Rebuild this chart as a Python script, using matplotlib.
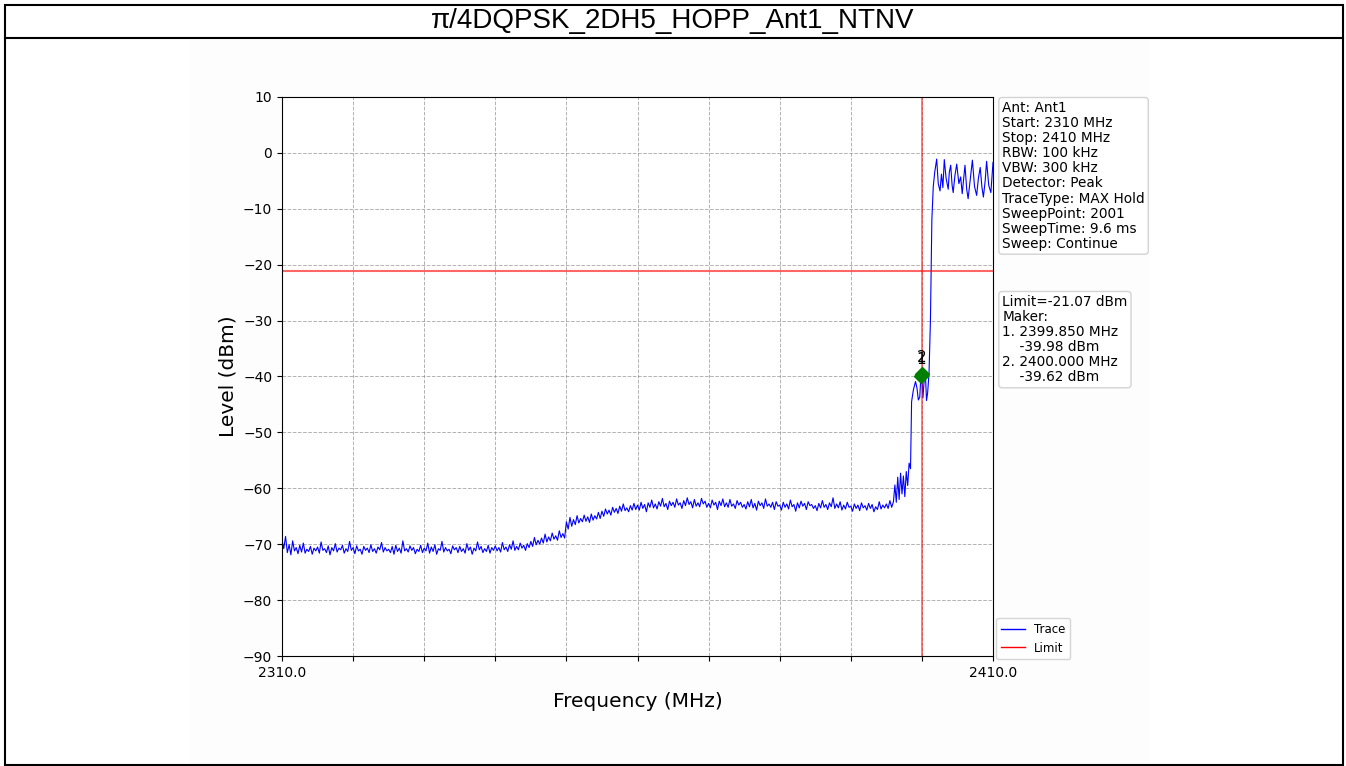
import numpy as np
import matplotlib
matplotlib.use('Agg')
import matplotlib.pyplot as plt
from matplotlib.patches import Rectangle
from matplotlib.lines import Line2D

title = 'π/4DQPSK_2DH5_HOPP_Ant1_NTNV'
start_mhz, stop_mhz = 2310, 2410
limit_dbm = -21.07
marker_freq = [2399.850, 2400.000]
marker_level = [-39.98, -39.62]

# noise floor, 0.25 MHz steps from 2310.0 to 2396.0 (one row = 5 MHz)
floor_level = [
    -69.2, -70.8, -68.6, -71.5, -70.1, -71.9, -69.4, -71.2, -70.6, -71.7, -70.2, -71.4, -69.8, -71.6, -70.9, -71.3, -70.4, -71.8, -70.7, -71.2,
    -70.5, -71.6, -69.6, -71.1, -70.8, -71.5, -70.3, -71.9, -70.6, -71.2, -69.9, -71.4, -70.7, -71.0, -70.2, -71.6, -70.8, -71.3, -69.5, -71.1,
    -70.6, -71.7, -70.3, -71.2, -70.9, -71.8, -70.4, -71.1, -70.7, -71.5, -70.1, -71.3, -70.8, -71.6, -70.5, -71.0, -69.7, -71.4, -70.6, -71.2,
    -70.9, -71.5, -70.4, -71.8, -70.2, -71.3, -70.7, -71.6, -69.4, -71.2, -70.8, -71.4, -70.3, -71.1, -70.6, -71.7, -70.9, -71.3, -70.2, -71.5,
    -70.7, -71.2, -69.8, -71.6, -70.5, -71.3, -70.1, -71.8, -70.8, -71.1, -69.5, -71.4, -70.6, -71.2, -70.9, -71.7, -70.3, -71.0, -70.6, -71.5,
    -70.4, -71.3, -70.8, -71.6, -69.9, -71.1, -70.5, -71.8, -70.7, -71.2, -69.6, -71.0, -70.4, -71.5, -70.8, -71.3, -70.2, -71.6, -70.6, -71.1,
    -70.3, -71.2, -70.6, -71.4, -69.7, -71.0, -70.5, -71.3, -70.1, -70.9, -69.4, -71.1, -70.4, -71.0, -69.8, -70.7, -70.2, -71.1, -69.9, -70.6,
    -69.5, -70.4, -68.8, -70.1, -69.3, -70.0, -68.9, -69.8, -68.2, -69.6, -68.7, -69.4, -68.0, -69.1, -68.5, -69.3, -67.6, -68.8, -68.1, -68.9,
    -66.0, -67.3, -65.2, -66.8, -65.6, -66.5, -64.9, -66.2, -65.4, -66.0, -64.8, -65.9, -65.1, -66.1, -64.6, -65.7, -64.9, -65.5, -64.3, -65.4,
    -64.1, -65.0, -63.7, -64.6, -63.9, -64.8, -63.4, -64.3, -63.6, -64.5, -63.2, -64.1, -62.8, -64.0, -63.5, -64.2, -63.1, -63.9, -62.7, -63.8,
    -63.0, -63.9, -62.5, -63.6, -62.9, -64.2, -62.6, -63.4, -62.1, -63.5, -62.8, -63.7, -62.4, -63.2, -61.8, -63.3, -62.7, -63.8, -62.3, -63.1,
    -62.5, -63.4, -61.9, -63.0, -62.6, -63.6, -62.2, -63.1, -61.7, -62.9, -62.4, -63.5, -62.0, -63.2, -62.6, -63.3, -61.8, -62.8, -62.3, -63.4,
    -62.7, -63.5, -62.1, -63.0, -62.5, -63.8, -62.3, -63.1, -61.9, -63.3, -62.6, -63.4, -62.0, -63.2, -62.8, -63.6, -62.2, -63.0, -62.5, -63.4,
    -62.9, -63.7, -62.4, -63.3, -62.0, -63.5, -62.7, -63.9, -62.3, -63.1, -62.6, -63.6, -61.9, -63.2, -62.8, -63.4, -62.5, -63.8, -62.4, -63.2,
    -63.0, -63.9, -62.5, -63.4, -62.8, -63.7, -62.1, -63.3, -62.9, -64.1, -62.6, -63.5, -62.3, -63.2, -62.7, -63.8, -62.4, -63.1, -62.9, -63.6,
    -63.1, -64.0, -62.7, -63.5, -62.2, -63.4, -62.9, -63.8, -62.6, -63.3, -61.7, -63.6, -62.8, -63.5, -62.4, -63.9, -63.0, -63.7, -62.5, -63.4,
    -63.2, -64.1, -62.8, -63.6, -63.0, -64.0, -62.6, -63.5, -63.1, -63.9, -62.7, -63.6, -62.9, -64.2, -63.3, -63.8, -62.4, -63.7, -63.0, -63.5,
    -62.8, -63.6, -62.2, -63.4, -62.4,
]
floor_freq = np.arange(len(floor_level)) * 0.25 + start_mhz

# band edge and in-band part
edge_freq = [
    2396.2, 2396.4, 2396.6, 2396.8, 2397.0, 2397.2, 2397.4, 2397.6, 2397.8, 2398.0,
    2398.2, 2398.4, 2398.55, 2398.8, 2399.1, 2399.3, 2399.5, 2399.7, 2399.85, 2400.0,
    2400.15, 2400.3, 2400.5, 2400.65, 2400.8, 2401.0, 2401.2, 2401.4, 2401.6, 2401.8,
    2402.08, 2402.3, 2402.55, 2402.75, 2402.95, 2403.15, 2403.4, 2403.7, 2403.85, 2404.05,
    2404.25, 2404.4, 2404.65, 2404.9, 2405.2, 2405.45, 2405.67, 2405.85, 2406.06, 2406.3,
    2406.5, 2406.8, 2407.1, 2407.4, 2407.7, 2407.95, 2408.2, 2408.45, 2408.65, 2408.9,
    2409.1, 2409.4, 2409.7, 2409.85, 2410.0,
]
edge_level = [
    -59.4, -62.5, -58.0, -62.0, -57.3, -61.0, -57.8, -61.5, -57.0, -59.5,
    -55.5, -56.5, -44.5, -42.4, -40.9, -42.0, -44.2, -43.7, -39.98, -39.62,
    -43.8, -41.0, -39.8, -44.3, -43.0, -39.5, -30.0, -12.0, -6.0, -3.5,
    -1.1, -5.5, -6.8, -3.8, -6.2, -1.2, -4.5, -6.5, -3.5, -2.2,
    -5.8, -7.1, -4.0, -2.0, -5.5, -4.3, -7.3, -5.0, -2.2, -6.5,
    -8.2, -4.8, -1.3, -6.0, -7.6, -4.5, -2.6, -6.2, -7.9, -5.0,
    -1.5, -5.8, -7.1, -4.5, -1.7,
]

freq = np.concatenate([floor_freq, edge_freq])
level = np.concatenate([floor_level, edge_level])

info_lines = ['Ant: Ant1', 'Start: 2310 MHz', 'Stop: 2410 MHz', 'RBW: 100 kHz',
              'VBW: 300 kHz', 'Detector: Peak', 'TraceType: MAX Hold',
              'SweepPoint: 2001', 'SweepTime: 9.6 ms', 'Sweep: Continue']

W, H = 1346, 766
fig = plt.figure(figsize=(W / 100, H / 100), dpi=100)

# frame, title row and plot panel
fig.add_artist(Rectangle((190 / W, 1 / H), 960 / W, 725 / H, transform=fig.transFigure,
                         facecolor='#fdfdfd', edgecolor='none', zorder=0))
fig.add_artist(Rectangle((5 / W, 1 / H), 1338 / W, 760 / H, transform=fig.transFigure,
                         facecolor='none', edgecolor='black', lw=1.5))
fig.add_artist(Line2D([5 / W, 1343 / W], [1 - 38 / H, 1 - 38 / H], transform=fig.transFigure,
                      color='black', lw=1.5))
fig.text(0.5, 1 - 21 / H, title, ha='center', va='center', fontsize=20,
         family=['Liberation Sans', 'DejaVu Sans'])

ax = fig.add_axes([282 / W, 1 - 656 / H, 711 / W, 559 / H])
ax.set_facecolor('white')

ax.plot(freq, level, color='blue', lw=0.8, label='Trace')
ax.axhline(limit_dbm, color='red', alpha=0.6, lw=1.5)
ax.axvline(2400, color='red', alpha=0.6, lw=1.2)
ax.plot(marker_freq, marker_level, 'D', color='green', ms=7, zorder=5)
for i, (mf, ml) in enumerate(zip(marker_freq, marker_level)):
    ax.annotate(str(i + 1), (mf, ml), xytext=(0, 7), textcoords='offset points',
                ha='center', va='bottom', fontsize=11)

ax.set_xlim(start_mhz, stop_mhz)
ax.set_ylim(-90, 10)
xt = np.arange(start_mhz, stop_mhz + 1, 10)
ax.set_xticks(xt)
ax.set_xticklabels(['%.1f' % v if v in (start_mhz, stop_mhz) else '' for v in xt])
ax.set_yticks(np.arange(-90, 11, 10))
ax.tick_params(labelsize=10)
ax.grid(True, ls='--', color='grey', alpha=0.6, lw=0.7)
ax.set_xlabel('Frequency (MHz)', fontsize=14.5, labelpad=9)
ax.set_ylabel('Level (dBm)', fontsize=14.5)

legend_handles = [Line2D([], [], color='blue', lw=1, label='Trace'),
                  Line2D([], [], color='red', lw=1, label='Limit')]
ax.legend(handles=legend_handles, loc='lower left', bbox_to_anchor=(1.003, -0.008),
          fontsize=8.5, borderaxespad=0.1)

box = dict(boxstyle='round,pad=0.25', facecolor='white', edgecolor='lightgrey')
ax.text(1.013, 0.993, '\n'.join(info_lines), transform=ax.transAxes, va='top', ha='left',
        fontsize=9.8, linespacing=1.1, bbox=box)
marker_text = 'Limit=%.2f dBm\nMaker:\n' % limit_dbm
marker_text += '\n'.join('%d. %.3f MHz\n    %.2f dBm' % (i + 1, f, l)
                         for i, (f, l) in enumerate(zip(marker_freq, marker_level)))
ax.text(1.013, 0.646, marker_text, transform=ax.transAxes, va='top', ha='left',
        fontsize=9.8, linespacing=1.1, bbox=box)

fig.savefig('out.png', dpi=100)
